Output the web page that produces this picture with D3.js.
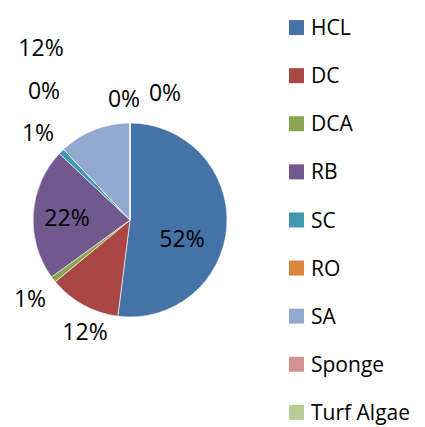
<!DOCTYPE html>
<html>
<head>
<meta charset="utf-8">
<script src="https://cdn.jsdelivr.net/npm/d3@7"></script>
<style>
  body { margin: 0; background: #fff; }
  text { font-family: "Open Sans", sans-serif; fill: #000; }
</style>
</head>
<body>
<script>
// data
var categories = ["HCL", "DC", "DCA", "RB", "SC", "RO", "SA", "Sponge", "Turf Algae"];
var values = [52, 12, 1, 22, 1, 0, 12, 0, 0];
var labels = ["52%", "12%", "1%", "22%", "1%", "0%", "12%", "0%", "0%"];
var colours = ["#4572A7", "#AA4643", "#89A54E", "#71588F", "#4198AF",
               "#DB843D", "#93A9CF", "#D19392", "#B9CD96"];

// label layout (offset from pie centre, Excel "best fit" placement)
var labelOffsets = [[52, 19], [-45, 112], [-100, 79], [-63, -2], [-92, -87],
                    [-86, -129], [-89, -172], [-6, -121], [35, -127]];

var w = 425, h = 427;
var cx = 130, cy = 220, radius = 97;

var svg = d3.select("body").append("svg")
    .attr("width", w)
    .attr("height", h);

var pie = d3.pie()
    .sort(null)
    .value(function(d) { return d; });

var arc = d3.arc()
    .innerRadius(0)
    .outerRadius(radius);

var g = svg.append("g")
    .attr("transform", "translate(" + cx + "," + cy + ")");

g.selectAll("path")
  .data(pie(values))
  .enter().append("path")
  .attr("d", arc)
  .attr("fill", function(d, i) { return colours[i]; })
  .attr("stroke", "#fff")
  .attr("stroke-width", 0.6);

g.selectAll("text.lbl")
  .data(labels)
  .enter().append("text")
  .attr("class", "lbl")
  .attr("x", function(d, i) { return labelOffsets[i][0]; })
  .attr("y", function(d, i) { return labelOffsets[i][1]; })
  .attr("dy", "0.36em")
  .attr("text-anchor", "middle")
  .style("font-size", "23px")
  .text(function(d) { return d; });

// legend
var yLegend = d3.scaleBand()
    .domain(categories)
    .range([3.5, 3.5 + 48.1 * categories.length]);

var legend = svg.selectAll("g.legend")
  .data(categories)
  .enter().append("g")
  .attr("class", "legend")
  .attr("transform", function(d) {
    return "translate(289," + (yLegend(d) + yLegend.bandwidth() / 2) + ")";
  });

legend.append("rect")
  .attr("x", 0)
  .attr("y", -7.5)
  .attr("width", 15)
  .attr("height", 15)
  .attr("fill", function(d, i) { return colours[i]; });

legend.append("text")
  .attr("x", 22)
  .attr("dy", "0.36em")
  .style("font-size", "21px")
  .text(function(d) { return d; });
</script>
</body>
</html>
